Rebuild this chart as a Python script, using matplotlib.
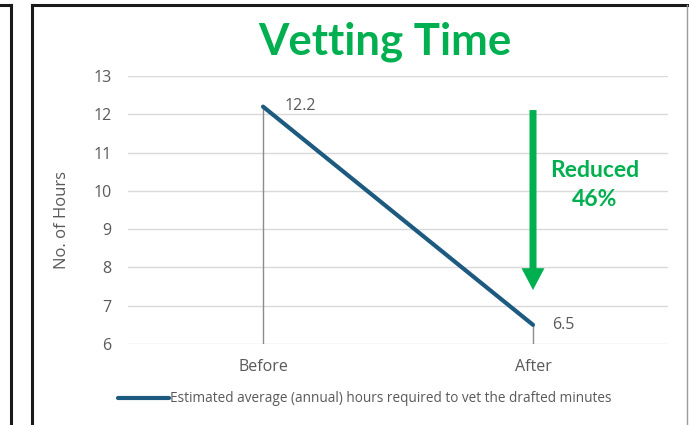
import matplotlib.pyplot as plt
from matplotlib.lines import Line2D

# Data
categories = ["Before", "After"]
hours = [12.2, 6.5]
series_label = "Estimated average (annual) hours required to vet the drafted minutes"
reduction_text = "Reduced\n46%"

green = "#00B050"
line_blue = "#1C5A80"
grey_text = "#595959"

plt.rcParams["font.family"] = ["Open Sans", "DejaVu Sans"]

fig = plt.figure(figsize=(6.9, 4.25), dpi=100)
ax = fig.add_axes([128 / 690, 1 - 344 / 425, 540 / 690, 268 / 425])


def px(x0, y0, x1, y1, **kw):
    # helper: draw a frame line in pixel coords of the figure
    fig.lines.append(Line2D([x0 / 690, x1 / 690], [1 - y0 / 425, 1 - y1 / 425],
                            transform=fig.transFigure, **kw))


# slide frames
px(32, 5, 687, 5, color="#1a1a1a", linewidth=2.2)
px(32, 5, 32, 430, color="#1a1a1a", linewidth=2.2)
px(687, 5, 687, 430, color="#9a9a9a", linewidth=1)
px(-5, 5, 11, 5, color="#1a1a1a", linewidth=2.2)
px(11, 5, 11, 430, color="#1a1a1a", linewidth=2.2)

x = list(range(len(categories)))

# drop lines
for xi, v in zip(x, hours):
    ax.plot([xi, xi], [6, v], color="#8c8c8c", linewidth=1, zorder=2)

ax.plot(x, hours, color=line_blue, linewidth=3, solid_capstyle="round",
        label=series_label, zorder=3)

# data labels
ax.annotate(f"{hours[0]}", (x[0], hours[0]), xytext=(22, 1),
            textcoords="offset pixels", va="center", ha="left",
            fontsize=11.5, color=grey_text)
ax.annotate(f"{hours[1]}", (x[1], hours[1]), xytext=(19, 0),
            textcoords="offset pixels", va="center", ha="left",
            fontsize=11.5, color=grey_text)

# reduction arrow
ax.arrow(1.0, 12.11, 0, -4.70, width=0.026, head_width=0.085,
         head_length=0.57, length_includes_head=True, color=green,
         linewidth=0, zorder=4)
ax.text(1.23, 10.15, reduction_text, ha="center", va="center",
        fontsize=16.5, fontweight="bold", color=green, linespacing=1.45,
        family="Lato")

ax.set_xlim(-0.5, 1.5)
ax.set_ylim(6, 13)
ax.set_yticks(range(6, 14))
ax.set_xticks(x)
ax.set_xticklabels(categories)
ax.grid(axis="y", color="#d9d9d9", linewidth=1)
ax.set_axisbelow(True)
for s in ax.spines.values():
    s.set_visible(False)
ax.tick_params(axis="both", length=0, labelsize=11.5, labelcolor=grey_text)
ax.tick_params(axis="x", pad=11)
ax.tick_params(axis="y", pad=12)

fig.text(62 / 690, 1 - 220 / 425, "No. of Hours", rotation=90, ha="center",
         va="center", fontsize=12, color=grey_text)
fig.text(385 / 690, 1 - 42 / 425, "Vetting Time", ha="center", va="center",
         fontsize=31.5, fontweight="bold", color=green, family="Lato")

fig.legend(loc="center", bbox_to_anchor=(365 / 690, 1 - 399 / 425),
           frameon=False, fontsize=9.8, handlelength=3.7, handletextpad=0.1,
           labelcolor=grey_text)

fig.savefig("out.png", dpi=100)
